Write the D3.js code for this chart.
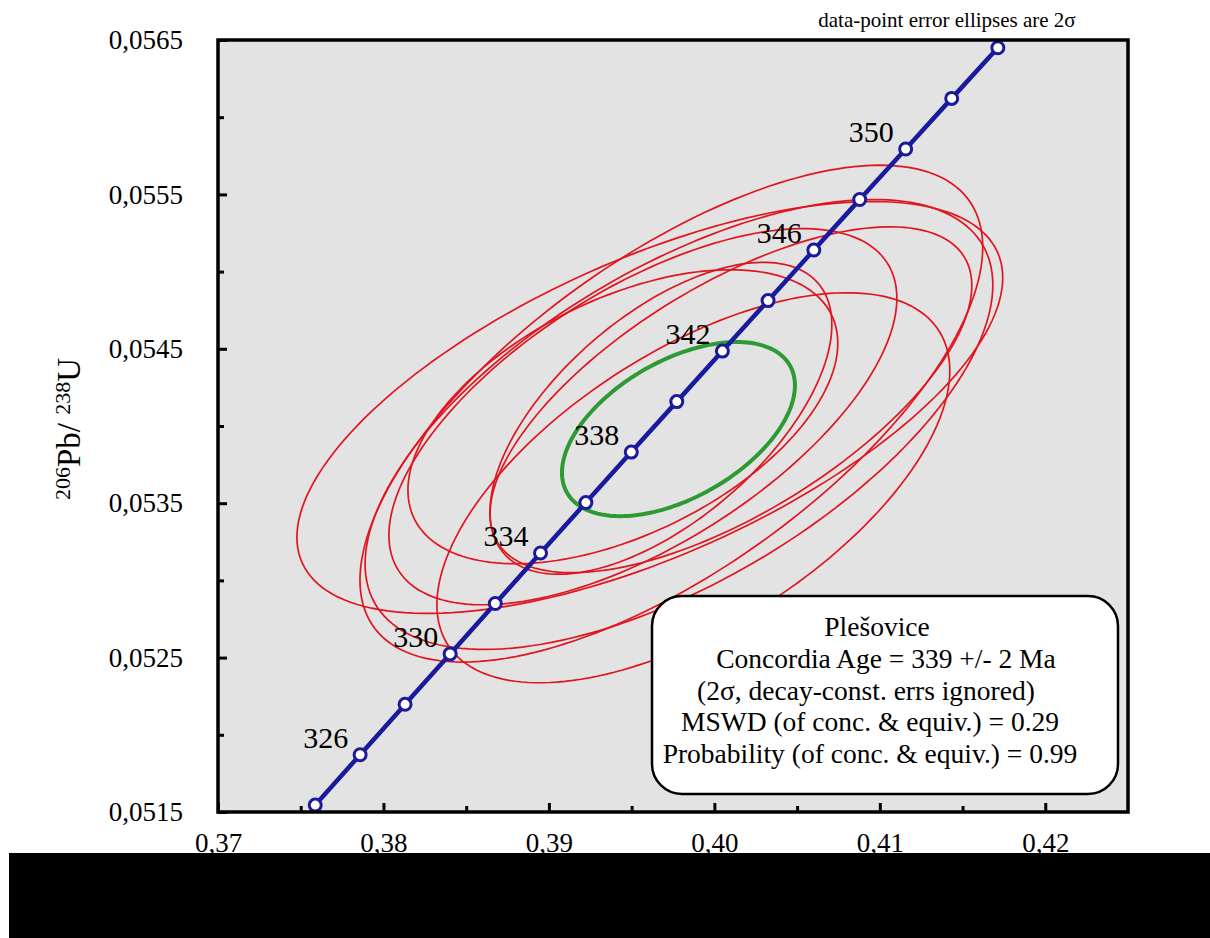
<!DOCTYPE html>
<html>
<head>
<meta charset="utf-8">
<script src="https://cdn.jsdelivr.net/npm/d3@7"></script>
<style>
  body { margin: 0; background: #fff; }
  svg { display: block; }
  text { font-family: "Liberation Serif", "Times New Roman", serif; fill: #000; }
</style>
</head>
<body>
<svg id="chart" width="1210" height="938"></svg>
<script>
// Concordia curve: ages (Ma) with their 207Pb/235U and 206Pb/238U ratios
const concordiaAges = [324, 326, 328, 330, 332, 334, 336, 338, 340, 342, 344, 346, 348, 350, 352, 354];
const concordiaX = [0.375877, 0.378590, 0.381308, 0.384031, 0.386760, 0.389494, 0.392234, 0.394979,
                    0.397729, 0.400485, 0.403246, 0.406012, 0.408785, 0.411563, 0.414345, 0.417134];
const concordiaY = [0.0515448, 0.0518711, 0.0521974, 0.0525240, 0.0528505, 0.0531772, 0.0535040, 0.0538309,
                    0.0541579, 0.0544850, 0.0548121, 0.0551395, 0.0554668, 0.0557944, 0.0561219, 0.0564497];
const labelledAges = [326, 330, 334, 338, 342, 346, 350];

// Data-point error ellipses (2σ): centre, errors and error correlation
const ellipseX    = [0.39610, 0.39873, 0.39677, 0.39568, 0.39740, 0.39786, 0.40100, 0.39447];
const ellipseY    = [0.05412, 0.05360, 0.05405, 0.05406, 0.05408, 0.05401, 0.05417, 0.05406];
const ellipseErrX = [0.02133, 0.01550, 0.01033, 0.01535, 0.01882, 0.01897, 0.01456, 0.01299];
const ellipseErrY = [0.001334, 0.001263, 0.001010, 0.001218, 0.001609, 0.001457, 0.001120, 0.000952];
const ellipseRho  = [0.63, 0.60, 0.60, 0.63, 0.67, 0.62, 0.66, 0.50];

// Concordia age ellipse
const meanX = 0.39783, meanY = 0.05398, meanErrX = 0.00704, meanErrY = 0.000564, meanRho = 0.50;

// Axes
const xDomain = [0.37, 0.425];
const yDomain = [0.0515, 0.0565];
const xMajorTicks = [0.37, 0.38, 0.39, 0.40, 0.41, 0.42];
const xMinorTicks = [0.375, 0.385, 0.395, 0.405, 0.415];
const yMajorTicks = [0.0515, 0.0525, 0.0535, 0.0545, 0.0555, 0.0565];
const yMinorTicks = [0.0520, 0.0530, 0.0540, 0.0550, 0.0560];

const boxTitle = "Plešovice";
const boxLines = [
  "Concordia Age = 339 +/- 2 Ma",
  "(2σ, decay-const. errs ignored)",
  "MSWD (of conc. & equiv.) = 0.29",
  "Probability (of conc. & equiv.) = 0.99"
];
const cornerNote = "data-point error ellipses are 2σ";

const svg = d3.select("#chart");
const plot = { left: 218, top: 40, right: 1128, bottom: 812 };

const x = d3.scaleLinear().domain(xDomain).range([plot.left, plot.right]);
const y = d3.scaleLinear().domain(yDomain).range([plot.bottom, plot.top]);

const comma = d3.formatLocale({ decimal: ",", thousands: ".", grouping: [3], currency: ["", ""] });
const fmtX = comma.format(".2f");
const fmtY = comma.format(".4f");

// plot background
svg.append("rect")
  .attr("x", plot.left).attr("y", plot.top)
  .attr("width", plot.right - plot.left).attr("height", plot.bottom - plot.top)
  .attr("fill", "#e3e3e3");

svg.append("clipPath").attr("id", "plotClip")
  .append("rect")
  .attr("x", plot.left).attr("y", plot.top)
  .attr("width", plot.right - plot.left).attr("height", plot.bottom - plot.top);

const layer = svg.append("g").attr("clip-path", "url(#plotClip)");

// ellipse outline from centre, 2σ errors and correlation
function ellipsePoints(cx, cy, ex, ey, rho) {
  const s = Math.sqrt(1 - rho * rho);
  return d3.range(0, 361, 2).map(deg => {
    const t = deg * Math.PI / 180;
    return [cx + ex * Math.cos(t), cy + ey * (rho * Math.cos(t) + s * Math.sin(t))];
  });
}
const ellLine = d3.line().x(d => x(d[0])).y(d => y(d[1])).curve(d3.curveLinearClosed);

layer.selectAll("path.data-ellipse")
  .data(ellipseX.map((_, i) => ellipsePoints(ellipseX[i], ellipseY[i], ellipseErrX[i], ellipseErrY[i], ellipseRho[i])))
  .join("path")
  .attr("class", "data-ellipse")
  .attr("d", ellLine)
  .attr("fill", "none")
  .attr("stroke", "#e01520")
  .attr("stroke-width", 1.7);

layer.append("path")
  .datum(ellipsePoints(meanX, meanY, meanErrX, meanErrY, meanRho))
  .attr("d", ellLine)
  .attr("fill", "none")
  .attr("stroke", "#2e9a34")
  .attr("stroke-width", 4);

// concordia curve with age markers
const concordia = concordiaAges.map((a, i) => ({ age: a, x: concordiaX[i], y: concordiaY[i] }));
layer.append("path")
  .datum(concordia)
  .attr("d", d3.line().x(d => x(d.x)).y(d => y(d.y)).curve(d3.curveMonotoneX))
  .attr("fill", "none")
  .attr("stroke", "#1a1a9c")
  .attr("stroke-width", 4.5);

layer.selectAll("circle.age")
  .data(concordia)
  .join("circle")
  .attr("class", "age")
  .attr("cx", d => x(d.x)).attr("cy", d => y(d.y))
  .attr("r", 6)
  .attr("fill", "#fff")
  .attr("stroke", "#1a1a9c")
  .attr("stroke-width", 3);

svg.selectAll("text.age-label")
  .data(concordia.filter(d => labelledAges.includes(d.age)))
  .join("text")
  .attr("class", "age-label")
  .attr("x", d => x(d.x) - 12)
  .attr("y", d => y(d.y) - 7)
  .attr("text-anchor", "end")
  .attr("font-size", 30)
  .text(d => d.age);

// axes with inward ticks
const axisStyle = g => {
  g.select(".domain").remove();
  g.selectAll(".tick line").attr("stroke", "#000").attr("stroke-width", 3);
  g.selectAll(".tick text").attr("font-family", "Liberation Serif, Times New Roman, serif").attr("fill", "#000");
};

svg.append("g")
  .attr("transform", `translate(${plot.left},0)`)
  .call(d3.axisLeft(y).tickValues(yMajorTicks).tickFormat(fmtY).tickSize(-9).tickPadding(35))
  .attr("font-size", 27)
  .call(axisStyle);
svg.append("g")
  .attr("transform", `translate(${plot.left},0)`)
  .call(d3.axisLeft(y).tickValues(yMinorTicks).tickFormat("").tickSize(-6))
  .call(axisStyle);

svg.append("g")
  .attr("transform", `translate(0,${plot.bottom})`)
  .call(d3.axisBottom(x).tickValues(xMajorTicks).tickFormat(fmtX).tickSize(-9).tickPadding(21))
  .attr("font-size", 27)
  .call(axisStyle);
svg.append("g")
  .attr("transform", `translate(0,${plot.bottom})`)
  .call(d3.axisBottom(x).tickValues(xMinorTicks).tickFormat("").tickSize(-6))
  .call(axisStyle);

// frame
svg.append("rect")
  .attr("x", plot.left).attr("y", plot.top)
  .attr("width", plot.right - plot.left).attr("height", plot.bottom - plot.top)
  .attr("fill", "none").attr("stroke", "#000").attr("stroke-width", 3.5);

// y-axis title: 206Pb/238U
const yTitle = svg.append("text")
  .attr("transform", "translate(80,429) rotate(-90)")
  .attr("text-anchor", "middle")
  .attr("font-size", 33);
yTitle.append("tspan").attr("font-size", 22).attr("dy", -10).text("206");
yTitle.append("tspan").attr("dy", 10).text("Pb/ ");
yTitle.append("tspan").attr("font-size", 22).attr("dy", -10).text("238");
yTitle.append("tspan").attr("dy", 10).text("U");

// note above the frame
svg.append("text")
  .attr("x", 947).attr("y", 27)
  .attr("text-anchor", "middle")
  .attr("font-size", 21)
  .text(cornerNote);

// results box
svg.append("rect")
  .attr("x", 652).attr("y", 596)
  .attr("width", 466).attr("height", 198)
  .attr("rx", 30).attr("ry", 30)
  .attr("fill", "#fff").attr("stroke", "#000").attr("stroke-width", 2.5);

const boxCentres = [877, 886, 866, 870, 870];
const boxBaselines = [636, 668, 700, 731, 763];
[boxTitle, ...boxLines].forEach((line, i) => {
  svg.append("text")
    .attr("x", boxCentres[i]).attr("y", boxBaselines[i])
    .attr("text-anchor", "middle")
    .attr("font-size", 27.5)
    .text(line);
});

// band across the bottom
svg.append("rect")
  .attr("x", 9).attr("y", 853)
  .attr("width", 1201).attr("height", 85)
  .attr("fill", "#000");
</script>
</body>
</html>
